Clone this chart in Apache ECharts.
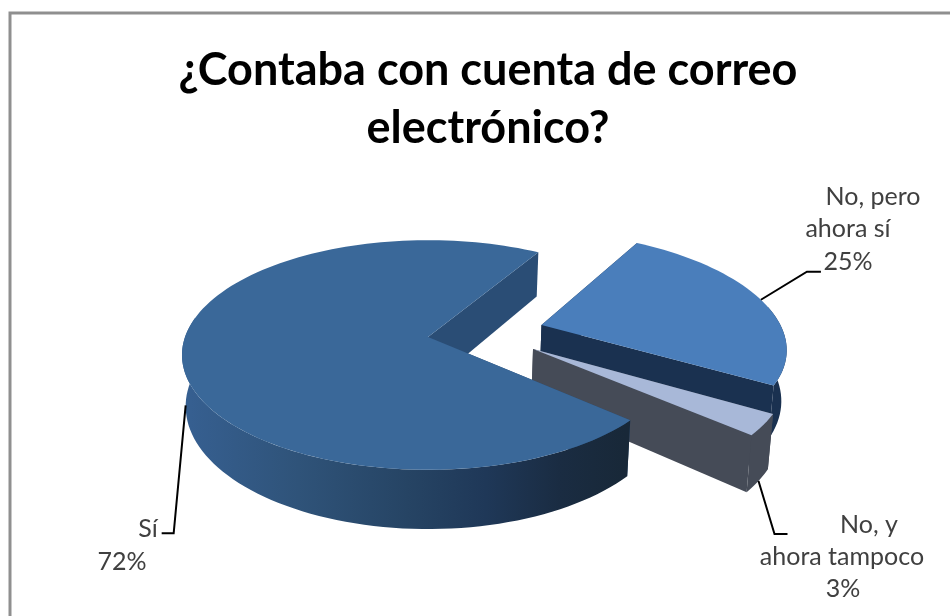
<!DOCTYPE html>
<html><head><meta charset="utf-8">
<style>html,body{margin:0;padding:0;background:#fff}#c{width:950px;height:616px}</style>
<script src="https://cdn.jsdelivr.net/npm/echarts@6/dist/echarts.min.js"></script>
</head><body><div id="c"></div>
<script>
// Data
const titleLines = ['¿Contaba con cuenta de correo', 'electrónico?'];
const categories = ['No, pero ahora sí', 'No, y ahora tampoco', 'Sí'];
const seriesValues = [25, 3, 72];
const labelLines = [['No, pero', 'ahora sí'], ['No, y', 'ahora tampoco'], ['Sí']];

// Styles & layout of the perspective pie
const PIE = {cx: 428, cy: 337, rx: 243, ry: 112, k: 0.1565, depth: 50, shrink: 0.985, startDeg: 31};
const explode = [[0.475, -0.109], [0.425, 0.105], [0, 0]];
const topColors = ['#4a7ebb', '#a8b8d8', '#3a6899'];
const cutColors = ['#1a3150', '#454b57', '#2a4d75'];
const wallColors = ['#1a3150', '#454b57', null];
const wallStops = [[0, '#365f90'], [0.25, '#2f5379'], [0.5, '#264464'], [0.68, '#1f3858'], [0.85, '#1a2c42'], [1, '#182838']];
const labelPos = [
  {lines: [[873, 197], [848, 229]], pct: [848, 262], elbow: [[46, -28], [60, -28]], fromBottom: false},
  {lines: [[869, 525], [842, 557]], pct: [843, 589], elbow: [[16, 53], [29, 53]], fromBottom: true},
  {lines: [[148, 529]], pct: [122, 562], elbow: [[-12, 128], [-24, 128]], fromBottom: true}
];
const WALL_FROM = 80, WALL_TO = 280;
const FONT = 'Lato, Carlito, sans-serif';

function project(u, v, bottom) {
  const w = 1 - PIE.k * v;
  let x = PIE.rx * u / w, y = PIE.ry * v / w;
  if (bottom) { x *= PIE.shrink; y += PIE.depth / w; }
  return [PIE.cx + x, PIE.cy + y];
}
const total = seriesValues.reduce((a, b) => a + b, 0);
const cum = [];
seriesValues.reduce((a, b, i) => { cum[i] = a; return a + b; }, 0);
function rim(i, deg, bottom) {
  const t = deg * Math.PI / 180, e = explode[i];
  return project(e[0] + Math.sin(t), e[1] - Math.cos(t), bottom);
}
function arc(i, a0, a1, bottom) {
  const pts = [], n = Math.ceil(Math.abs(a1 - a0) / 2);
  for (let j = 0; j <= n; j++) pts.push(rim(i, a0 + (a1 - a0) * j / n, bottom));
  return pts;
}
function poly(points, fill) {
  return {type: 'polygon', shape: {points}, style: {fill, stroke: 'none'}, silent: true};
}
function txt(text, p, size, weight, color) {
  return {type: 'text', silent: true, style: {text, x: p[0], y: p[1], fill: color, align: 'center', verticalAlign: 'middle',
    fontFamily: FONT, fontSize: size, fontWeight: weight}};
}
function renderItem(params, api) {
  const i = params.dataIndex, val = api.value(0);
  const a0 = PIE.startDeg + cum[i] / total * 360, a1 = a0 + val / total * 360;
  const e = explode[i];
  const apexT = project(e[0], e[1], false), apexB = project(e[0], e[1], true);
  const children = [];
  const wallFill = wallColors[i] || new echarts.graphic.LinearGradient(190, 0, 625, 0,
    wallStops.map(s => ({offset: s[0], color: s[1]})), true);
  // back cut face, then the part of the outer wall that faces the viewer, then the front cut face
  children.push(poly([apexT, rim(i, a0), rim(i, a0, true), apexB], cutColors[i]));
  const w0 = Math.max(a0, WALL_FROM), w1 = Math.min(a1, WALL_TO);
  if (w1 > w0) children.push(poly(arc(i, w0, w1, false).concat(arc(i, w1, w0, true)), wallFill));
  children.push(poly([apexT, rim(i, a1), rim(i, a1, true), apexB], cutColors[i]));
  // top surface
  children.push(poly([apexT].concat(arc(i, a0, a1, false)), topColors[i]));
  // leader line and label
  const lp = labelPos[i], s = rim(i, (a0 + a1) / 2, lp.fromBottom);
  children.push({type: 'polyline', silent: true, z2: 10,
    shape: {points: [s, [s[0] + lp.elbow[0][0], s[1] + lp.elbow[0][1]], [s[0] + lp.elbow[1][0], s[1] + lp.elbow[0][1]]]},
    style: {stroke: '#000', lineWidth: 2, fill: 'none'}});
  labelLines[i].forEach((t, j) => children.push(Object.assign(txt(t, lp.lines[j], 25, 'normal', '#404040'), {z2: 11})));
  children.push(Object.assign(txt(val + '%', lp.pct, 25, 'normal', '#404040'), {z2: 11}));
  return {type: 'group', children};
}
const chart = echarts.init(document.getElementById('c'), null, {renderer: 'canvas'});
chart.setOption({
  animation: false,
  backgroundColor: '#fff',
  title: titleLines.map((t, i) => ({
    text: t, left: 483, top: 65 + i * 58, textAlign: 'center', textVerticalAlign: 'middle',
    textStyle: {fontFamily: FONT, fontSize: 45, fontWeight: 'bold', color: '#000'}
  })),
  graphic: [{type: 'rect', silent: true, shape: {x: 10, y: 13, width: 960, height: 640},
    style: {fill: 'none', stroke: '#8f8f8f', lineWidth: 3}}],
  series: [{
    type: 'custom', coordinateSystem: 'none', clip: false, silent: true,
    name: 'Cuenta de correo',
    data: categories.map((c, i) => ({name: c, value: [seriesValues[i]]})),
    renderItem
  }]
});
</script></body></html>
